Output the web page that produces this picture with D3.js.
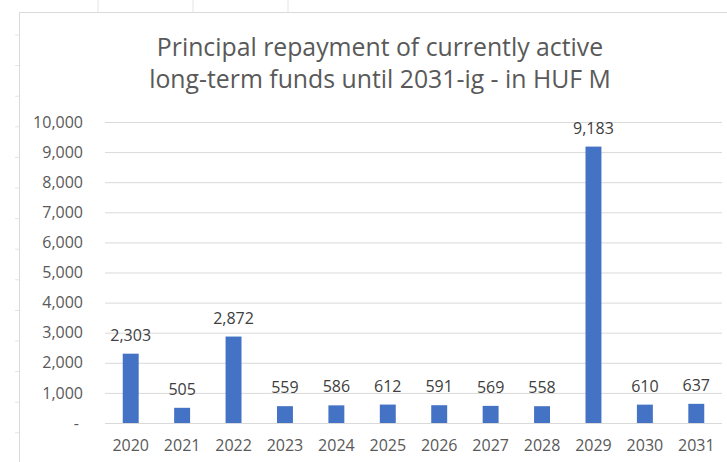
<!DOCTYPE html>
<html>
<head>
<meta charset="utf-8">
<script src="https://cdn.jsdelivr.net/npm/d3@7"></script>
<style>
    body { margin: 0; background: #fff; }
    text { font-family: "Open Sans", sans-serif; }
</style>
</head>
<body>
<div id="chart"></div>
<script>
// Data
const years = ["2020", "2021", "2022", "2023", "2024", "2025", "2026", "2027", "2028", "2029", "2030", "2031"];
const repayment = [2303, 505, 2872, 559, 586, 612, 591, 569, 558, 9183, 610, 637];
const yTicks = [0, 1000, 2000, 3000, 4000, 5000, 6000, 7000, 8000, 9000, 10000];
const titleLines = ["Principal repayment of currently active", "long-term funds until 2031-ig - in HUF M"];

const width = 727;
const height = 462;

const svg = d3.select("#chart")
    .append("svg")
    .attr("width", width)
    .attr("height", height);

// faint spreadsheet cell lines outside the chart area
[98, 193, 288].forEach(function(x) {
    svg.append("line").attr("x1", x).attr("x2", x).attr("y1", 0).attr("y2", 12)
        .attr("stroke", "#e4e4e4");
});
d3.range(35, 462, 30.6).forEach(function(y) {
    svg.append("line").attr("x1", 15).attr("x2", 20).attr("y1", y).attr("y2", y)
        .attr("stroke", "#e4e4e4");
});

// chart border (only top and left are in view)
svg.append("path")
    .attr("d", "M19.5,462 V12.5 H727")
    .attr("fill", "none")
    .attr("stroke", "#d9d9d9");

// title
svg.selectAll(".title")
    .data(titleLines)
    .enter()
    .append("text")
    .attr("class", "title")
    .attr("x", 380)
    .attr("y", function(d, i) { return 56 + i * 32; })
    .attr("text-anchor", "middle")
    .attr("font-size", "24.8px")
    .attr("fill", "#595959")
    .text(d => d);

const x = d3.scaleBand()
    .domain(years)
    .range([105, 722])
    .paddingInner(0.69)
    .paddingOuter(0.345);

const y = d3.scaleLinear()
    .domain([0, 10000])
    .range([423, 122]);

// gridlines
svg.append("g")
    .selectAll("line")
    .data(yTicks)
    .enter()
    .append("line")
    .attr("x1", 105)
    .attr("x2", 722)
    .attr("y1", d => y(d) + 0.5)
    .attr("y2", d => y(d) + 0.5)
    .attr("stroke", "#d9d9d9");

// y axis labels
const fmt = d3.format(",");
svg.append("g")
    .selectAll("text")
    .data(yTicks)
    .enter()
    .append("text")
    .attr("x", d => d === 0 ? 79 : 83)
    .attr("y", d => y(d))
    .attr("dy", "0.35em")
    .attr("text-anchor", "end")
    .attr("font-size", "16px")
    .attr("fill", "#595959")
    .text(d => d === 0 ? "-" : fmt(d));

// bars
svg.append("g")
    .selectAll("rect")
    .data(repayment)
    .enter()
    .append("rect")
    .attr("x", (d, i) => x(years[i]))
    .attr("width", x.bandwidth())
    .attr("y", d => y(d))
    .attr("height", d => y(0) - y(d))
    .attr("fill", "#4472c4");

// value labels
svg.append("g")
    .selectAll("text")
    .data(repayment)
    .enter()
    .append("text")
    .attr("x", (d, i) => x(years[i]) + x.bandwidth() / 2)
    .attr("y", d => y(d) - 13)
    .attr("text-anchor", "middle")
    .attr("font-size", "16px")
    .attr("fill", "#404040")
    .text(d => fmt(d));

// x axis labels
svg.append("g")
    .selectAll("text")
    .data(years)
    .enter()
    .append("text")
    .attr("x", d => x(d) + x.bandwidth() / 2)
    .attr("y", 451)
    .attr("text-anchor", "middle")
    .attr("font-size", "16px")
    .attr("fill", "#595959")
    .text(d => d);
</script>
</body>
</html>
